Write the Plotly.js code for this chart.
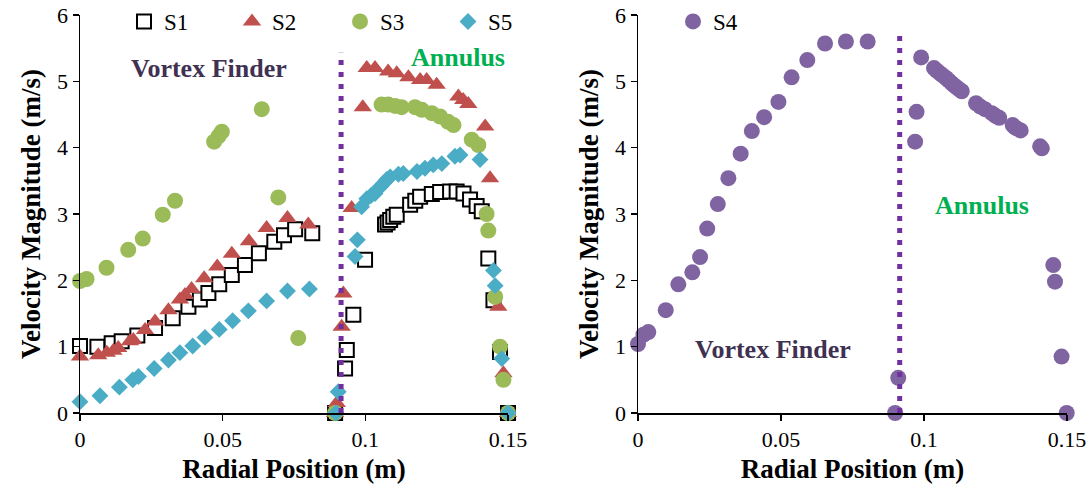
<!DOCTYPE html>
<html>
<head>
<meta charset="utf-8">
<script src="https://cdn.plot.ly/plotly-3.0.1.min.js"></script>
<style>html,body{margin:0;padding:0;background:#fff;}#chart{width:1091px;height:487px;}</style>
</head>
<body>
<div id="chart"></div>
<script>
// ---- data ----
const s1X = [0, 0.0061, 0.0111, 0.0146, 0.0201, 0.0263, 0.0325, 0.038, 0.042, 0.045, 0.0488, 0.0532, 0.0578, 0.0627, 0.0681, 0.0715, 0.0754, 0.0814,
  0.0894, 0.0929, 0.0935, 0.0958, 0.0999, 0.1069, 0.1078, 0.1087, 0.1098, 0.111, 0.1157, 0.1175, 0.1192, 0.1233, 0.1262, 0.1297, 0.132, 0.1344, 0.1367, 0.139, 0.1408, 0.1431, 0.1449, 0.1472, 0.15];
const s1Y = [1.01, 1.0, 1.05, 1.08, 1.17, 1.28, 1.43, 1.60, 1.71, 1.81, 1.94, 2.08, 2.23, 2.41, 2.58, 2.68, 2.77, 2.71,
  0, 0.67, 0.95, 1.48, 2.31, 2.84, 2.87, 2.91, 2.96, 2.99, 3.14, 3.20, 3.26, 3.30, 3.33, 3.34, 3.34, 3.31, 3.22, 3.12, 3.04, 2.33, 1.70, 0.92, 0];

const s2X = [0, 0.0064, 0.0094, 0.0117, 0.0134, 0.0175, 0.0187, 0.0228, 0.0263, 0.031, 0.035, 0.0368, 0.0391, 0.0435, 0.0481, 0.0532, 0.0592, 0.0654, 0.0727, 0.08,
  0.0894, 0.0900, 0.0917, 0.0923, 0.0952, 0.0991, 0.1005, 0.1034, 0.108, 0.111, 0.1151, 0.1192, 0.1215, 0.125, 0.1326, 0.1343, 0.1361, 0.142, 0.1437, 0.1466, 0.1484, 0.15];
const s2Y = [0.85, 0.87, 0.91, 0.94, 0.98, 1.08, 1.10, 1.25, 1.38, 1.55, 1.71, 1.78, 1.87, 2.03, 2.21, 2.40, 2.59, 2.79, 2.94, 2.84,
  0, 0.15, 1.30, 1.80, 3.09, 4.61, 5.20, 5.20, 5.15, 5.12, 5.06, 5.02, 5.02, 4.95, 4.77, 4.72, 4.66, 4.32, 3.54, 1.60, 0.60, 0];

const s3X = [0, 0.0023, 0.0093, 0.0169, 0.022, 0.029, 0.0333, 0.047, 0.0485, 0.0497, 0.0637, 0.0695, 0.0765,
  0.0894, 0.1057, 0.108, 0.1104, 0.1127, 0.1174, 0.1198, 0.1233, 0.1262, 0.129, 0.1309, 0.1373, 0.1396, 0.1425, 0.1431, 0.1455, 0.1472, 0.1484, 0.15];
const s3Y = [1.99, 2.02, 2.19, 2.46, 2.63, 2.99, 3.20, 4.09, 4.17, 4.24, 4.58, 3.25, 1.13,
  0, 4.65, 4.65, 4.63, 4.61, 4.61, 4.57, 4.52, 4.47, 4.39, 4.34, 4.12, 4.04, 3.00, 2.75, 1.75, 1.00, 0.50, 0];

const s5X = [0, 0.007, 0.0138, 0.0185, 0.0205, 0.026, 0.031, 0.035, 0.0395, 0.0438, 0.0488, 0.0535, 0.059, 0.0654, 0.0727, 0.0804,
  0.0897, 0.0905, 0.0964, 0.0972, 0.0987, 0.1005, 0.102, 0.1034, 0.1045, 0.1055, 0.1063, 0.1075, 0.1087, 0.1116, 0.1133, 0.1181, 0.1209, 0.1238, 0.1268, 0.1314, 0.1332, 0.1402, 0.1449, 0.1455, 0.1478, 0.15];
const s5Y = [0.17, 0.26, 0.39, 0.50, 0.55, 0.67, 0.80, 0.91, 1.01, 1.14, 1.26, 1.39, 1.54, 1.69, 1.84, 1.87,
  0, 0.32, 2.36, 2.61, 3.11, 3.23, 3.28, 3.31, 3.38, 3.42, 3.46, 3.52, 3.56, 3.60, 3.61, 3.64, 3.69, 3.74, 3.76, 3.87, 3.89, 3.82, 2.15, 1.92, 0.82, 0];

const s4X = [0, 0.0019, 0.0036, 0.0097, 0.0141, 0.019, 0.0217, 0.0242, 0.0279, 0.0316, 0.0359, 0.0398, 0.0441, 0.0491, 0.0537, 0.0592, 0.0654, 0.0727, 0.0803,
  0.0899, 0.091, 0.0969, 0.0974, 0.099, 0.1035, 0.1045, 0.1056, 0.1065, 0.1077, 0.1087, 0.1097, 0.1105, 0.1114, 0.1123, 0.1132, 0.1182, 0.1197, 0.1213, 0.1237, 0.125, 0.1263, 0.131, 0.1317, 0.1324, 0.1338, 0.1406, 0.1412, 0.1452, 0.1458, 0.1481, 0.1499];
const s4Y = [1.04, 1.18, 1.22, 1.55, 1.94, 2.12, 2.35, 2.78, 3.15, 3.54, 3.91, 4.25, 4.46, 4.69, 5.06, 5.32, 5.57, 5.60, 5.60,
  0, 0.53, 4.09, 4.54, 5.36, 5.20, 5.16, 5.12, 5.09, 5.05, 5.01, 4.97, 4.94, 4.91, 4.88, 4.85, 4.67, 4.62, 4.58, 4.52, 4.48, 4.45, 4.34, 4.31, 4.29, 4.26, 4.02, 3.99, 2.23, 1.98, 0.85, 0];

// boundary between vortex finder and annulus
const boundaryX = [0.0915, 0.0915];
const boundaryLeftY = [0, 5.43];
const boundaryRightY = [0, 5.70];

const xTicks = [0, 0.05, 0.1, 0.15];
const xTickText = ['0', '0.05', '0.1', '0.15'];
const yTicks = [0, 1, 2, 3, 4, 5, 6];

const FONT = '"Liberation Serif", "Times New Roman", Times, serif';

const traces = [
  {x: s1X, y: s1Y, name: 'S1', type: 'scatter', mode: 'markers', xaxis: 'x', yaxis: 'y', cliponaxis: false,
   marker: {symbol: 'square', size: 14, color: '#ffffff', line: {color: '#000000', width: 2}}},
  {x: s2X, y: s2Y, name: 'S2', type: 'scatter', mode: 'markers', xaxis: 'x', yaxis: 'y', cliponaxis: false,
   marker: {symbol: 'triangle-up', size: 16, color: '#C0504D'}},
  {x: s3X, y: s3Y, name: 'S3', type: 'scatter', mode: 'markers', xaxis: 'x', yaxis: 'y', cliponaxis: false,
   marker: {symbol: 'circle', size: 16, color: '#9BBB59'}},
  {x: s5X, y: s5Y, name: 'S5', type: 'scatter', mode: 'markers', xaxis: 'x', yaxis: 'y', cliponaxis: false,
   marker: {symbol: 'diamond', size: 13, color: '#4BACC6'}},
  {x: boundaryX, y: boundaryLeftY, type: 'scatter', mode: 'lines', xaxis: 'x', yaxis: 'y', showlegend: false, hoverinfo: 'skip',
   line: {color: '#7030A0', width: 5, dash: '5px,7px'}},
  {x: s4X, y: s4Y, name: 'S4', type: 'scatter', mode: 'markers', xaxis: 'x2', yaxis: 'y2', cliponaxis: false, legend: 'legend2',
   marker: {symbol: 'circle', size: 16, color: '#8064A2'}},
  {x: boundaryX, y: boundaryRightY, type: 'scatter', mode: 'lines', xaxis: 'x2', yaxis: 'y2', showlegend: false, hoverinfo: 'skip',
   line: {color: '#7030A0', width: 5, dash: '5px,7px'}}
];

const W = 1091, H = 487;
function axX(domain) {
  return {domain: domain, range: [0, 0.15], tickvals: xTicks, ticktext: xTickText,
    showline: true, linecolor: '#000', linewidth: 1.5, ticks: 'outside', ticklen: 6, tickwidth: 1.5, tickcolor: '#000',
    showgrid: false, zeroline: false, tickfont: {family: FONT, size: 22, color: '#000'},
    title: {text: '<b>Radial Position (m)</b>', font: {family: FONT, size: 27, color: '#000'}, standoff: 8}};
}
function axY(anchor) {
  return {domain: [74 / H, 472 / H], range: [0, 6], tickvals: yTicks, anchor: anchor,
    showline: true, linecolor: '#000', linewidth: 1.5, ticks: 'outside', ticklen: 6, tickwidth: 1.5, tickcolor: '#000',
    showgrid: false, zeroline: false, tickfont: {family: FONT, size: 22, color: '#000'},
    title: {text: '<b>Velocity Magnitude (m/s)</b>', font: {family: FONT, size: 27, color: '#000'}, standoff: 8}};
}

const layout = {
  width: W, height: H,
  margin: {l: 0, r: 0, t: 0, b: 0},
  paper_bgcolor: '#fff', plot_bgcolor: 'rgba(0,0,0,0)',
  font: {family: FONT, color: '#000'},
  xaxis: Object.assign(axX([80 / W, 508 / W]), {anchor: 'y'}),
  yaxis: axY('x'),
  xaxis2: Object.assign(axX([638 / W, 1067 / W]), {anchor: 'y2'}),
  yaxis2: axY('x2'),
  legend: {orientation: 'h', x: 124 / W, y: 1, xanchor: 'left', yanchor: 'top', bgcolor: 'rgba(0,0,0,0)',
    font: {family: FONT, size: 23, color: '#000'}, entrywidth: 63, entrywidthmode: 'pixels', traceorder: 'normal'},
  legend2: {orientation: 'h', x: 673 / W, y: 1, xanchor: 'left', yanchor: 'top', bgcolor: 'rgba(0,0,0,0)',
    font: {family: FONT, size: 23, color: '#000'}},
  annotations: [
    {x: 0.0451, y: 5.2, xref: 'x', yref: 'y', text: '<b>Vortex Finder</b>', showarrow: false,
     font: {family: FONT, size: 26, color: '#403152'}},
    {x: 0.1324, y: 5.36, xref: 'x', yref: 'y', text: '<b>Annulus</b>', showarrow: false,
     font: {family: FONT, size: 26, color: '#00B050'}},
    {x: 0.0472, y: 0.95, xref: 'x2', yref: 'y2', text: '<b>Vortex Finder</b>', showarrow: false,
     font: {family: FONT, size: 26, color: '#403152'}},
    {x: 0.1202, y: 3.125, xref: 'x2', yref: 'y2', text: '<b>Annulus</b>', showarrow: false,
     font: {family: FONT, size: 26, color: '#00B050'}}
  ],
  showlegend: true
};

Plotly.newPlot('chart', traces, layout, {displayModeBar: false, staticPlot: true});
</script>
</body>
</html>
